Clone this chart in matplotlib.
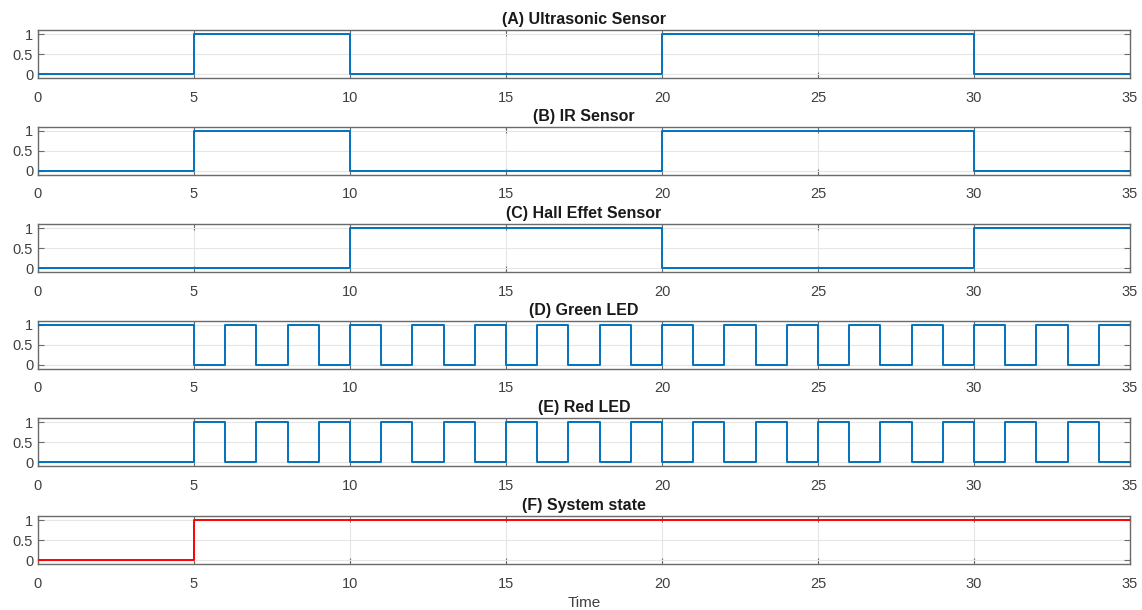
import matplotlib
matplotlib.use("Agg")
import matplotlib.pyplot as plt

titles = ["(A) Ultrasonic Sensor", "(B) IR Sensor", "(C) Hall Effet Sensor",
          "(D) Green LED", "(E) Red LED", "(F) System state"]

t_us = [0, 5, 10, 20, 30, 35]
v_us = [0, 1, 0, 1, 0]
t_ir = [0, 5, 10, 20, 30, 35]
v_ir = [0, 1, 0, 1, 0]
t_hall = [0, 10, 20, 30, 35]
v_hall = [0, 1, 0, 1]
t_led = [0, 5, 6, 7, 8, 9, 10, 11, 12, 13, 14, 15, 16, 17, 18, 19, 20,
         21, 22, 23, 24, 25, 26, 27, 28, 29, 30, 31, 32, 33, 34, 35]
v_green = [1, 0, 1, 0, 1, 0, 1, 0, 1, 0, 1, 0, 1, 0, 1, 0, 1,
           0, 1, 0, 1, 0, 1, 0, 1, 0, 1, 0, 1, 0, 1]
v_red = [0, 1, 0, 1, 0, 1, 0, 1, 0, 1, 0, 1, 0, 1, 0, 1, 0,
         1, 0, 1, 0, 1, 0, 1, 0, 1, 0, 1, 0, 1, 0]
t_sys = [0, 5, 35]
v_sys = [0, 1]

series = [(t_us, v_us), (t_ir, v_ir), (t_hall, v_hall),
          (t_led, v_green), (t_led, v_red), (t_sys, v_sys)]
colors = ["#0072BD"] * 5 + ["#FF0000"]

xticks = [0, 5, 10, 15, 20, 25, 30, 35]
yticks = [0, 0.5, 1]
ytick_labels = ["0", "0.5", "1"]

plt.rcParams['font.family'] = ['Liberation Sans', 'DejaVu Sans']

W, H = 1142, 610
fig = plt.figure(figsize=(W / 100, H / 100), dpi=100)

left, right = 38, 1130
tops = [30, 127, 224, 321, 418, 516]
height = 48
edge = "#6a6a6a"

for i, ((t, v), title, c) in enumerate(zip(series, titles, colors)):
    top = tops[i]
    ax = fig.add_axes([left / W, 1 - (top + height) / H, (right - left) / W, height / H])
    ax.step(t, list(v) + [v[-1]], where='post', color=c, lw=1.4, zorder=3)
    ax.set_xlim(0, 35)
    ax.set_ylim(-0.1, 1.1)
    ax.set_xticks(xticks)
    ax.set_xticklabels([str(x) for x in xticks])
    ax.set_yticks(yticks)
    ax.set_yticklabels(ytick_labels)
    ax.grid(True, color="#e6e6e6", lw=0.8, zorder=0)
    ax.set_axisbelow(True)
    ax.tick_params(direction='in', top=True, right=True, length=4, width=0.8,
                   color=edge, labelcolor="#404040", labelsize=10.5)
    ax.tick_params(axis='x', pad=9)
    ax.tick_params(axis='y', pad=3.5)
    for s in ax.spines.values():
        s.set_color(edge)
        s.set_linewidth(1.0)
    ax.set_title(title, fontsize=11.5, fontweight='bold', color="#1a1a1a", pad=4)
    if i == 5:
        ax.set_xlabel("Time", fontsize=11, color="#404040", labelpad=4)

fig.savefig("out.png", dpi=100)
